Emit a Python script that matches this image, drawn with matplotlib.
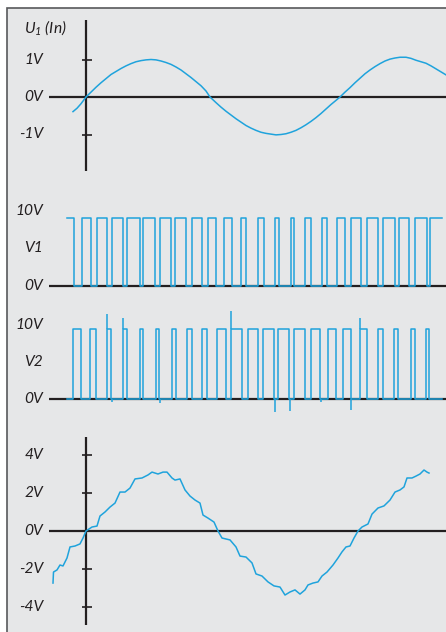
import matplotlib
matplotlib.use("Agg")
import matplotlib.pyplot as plt
from matplotlib.patches import Rectangle

# tamaño de la figura en px (dpi 100)
W, H = 446, 632

# --- datos (tiempo en unidades arbitrarias, 0 = eje vertical) ---
# U1 (entrada senoidal)
u1_t = [-13, -9, -5, 0, 5, 10, 15, 20, 25, 30, 35, 40, 45, 50, 55, 60, 65, 70, 75,
        80, 85, 90, 95, 100, 105, 110, 115, 120, 124, 130, 135, 140, 145, 150, 155,
        160, 165, 170, 175, 180, 185, 190, 195, 200, 205, 210, 215, 220, 225, 230,
        235, 240, 245, 250, 254, 259, 264, 269, 274, 279, 284, 289, 294, 299, 304,
        309, 314, 320, 325, 330, 335, 340, 345, 350, 355, 360]
u1_v = [-0.39, -0.30, -0.18, 0.0, 0.13, 0.26, 0.38, 0.49, 0.60, 0.68, 0.76, 0.83,
        0.89, 0.94, 0.97, 0.99, 1.0, 0.99, 0.96, 0.92, 0.87, 0.80, 0.72, 0.62, 0.52,
        0.41, 0.30, 0.16, 0.0, -0.15, -0.27, -0.38, -0.48, -0.58, -0.67, -0.76,
        -0.83, -0.89, -0.94, -0.97, -0.99, -1.01, -1.0, -0.98, -0.94, -0.89, -0.82,
        -0.74, -0.65, -0.55, -0.44, -0.32, -0.20, -0.09, 0.0, 0.13, 0.25, 0.38, 0.5,
        0.62, 0.72, 0.81, 0.89, 0.96, 1.01, 1.04, 1.06, 1.06, 1.03, 0.98, 0.94,
        0.90, 0.83, 0.75, 0.67, 0.59]

# V1: intervalos en bajo (bajada, subida)
v1_lows = [(-12, -4), (5, 11), (21, 26), (37, 41), (54, 57), (69, 74), (85, 89),
           (100, 106), (116, 122), (130, 138), (146, 155), (160, 172), (178, 189),
           (193, 205), (208, 219), (225, 236), (241, 251), (259, 265), (275, 281),
           (292, 297), (309, 313), (323, 329), (341, 344)]
v1_span = (-19, 356)

# V2: intervalos en alto (subida, bajada) y picos
v2_highs = [(-13, -5), (4, 10), (21, 25), (37, 41), (54, 57), (70, 73), (86, 90),
            (101, 106), (116, 121), (131, 140), (145, 156), (162, 172), (177, 188),
            (192, 203), (208, 219), (225, 234), (242, 250), (257, 265), (274, 281),
            (292, 297), (308, 312), (325, 329), (340, 343)]
v2_span = (-19, 356)
v2_spike_t = [21, 26, 37, 74, 145, 189, 204, 235, 265, 274]
v2_spike_v = [12.1, -0.4, 11.6, -0.6, 12.6, -1.9, -1.7, -0.4, -1.6, 11.6]

# salida filtrada
out_t = [-33, -32.5, -29, -26, -23, -19, -16, -11, -6, -3, 0, 6, 11, 14, 19, 24, 29,
         34, 39, 44, 49, 56, 62, 66, 72, 77, 81, 86, 89, 94, 99, 104, 109, 114, 117,
         122, 128, 132, 136, 144, 150, 154, 160, 166, 170, 176, 182, 188, 194, 199,
         204, 209, 214, 219, 222, 227, 232, 236, 241, 247, 252, 256, 260, 264, 268,
         272, 276, 282, 286, 292, 298, 304, 309, 314, 318, 321, 326, 330, 334, 338,
         341, 343]
out_v = [-2.74, -2.16, -2.05, -1.79, -1.84, -1.42, -0.84, -0.79, -0.68, -0.37, 0.0,
         0.21, 0.26, 0.79, 1.0, 1.26, 1.47, 2.05, 2.05, 2.26, 2.74, 2.79, 2.95, 3.1,
         3.0, 3.1, 3.1, 2.79, 2.68, 2.74, 2.16, 1.84, 1.63, 1.47, 0.84, 0.68, 0.47,
         0.0, -0.37, -0.47, -0.84, -1.32, -1.37, -1.68, -2.26, -2.37, -2.68, -2.89,
         -2.95, -3.37, -3.21, -3.1, -3.32, -3.1, -2.84, -2.74, -2.68, -2.37, -2.16,
         -1.79, -1.42, -1.1, -0.84, -0.79, -0.37, 0.0, 0.21, 0.37, 0.89, 1.21, 1.32,
         1.63, 2.05, 2.16, 2.32, 2.79, 2.79, 2.89, 3.0, 3.21, 3.1, 3.05]

# etiquetas
u1_ticks = [1, 0, -1]
u1_labels = ["1V", "0V", "-1V"]
out_ticks = [4, 2, 0, -2, -4]
out_labels = ["4V", "2V", "0V", "-2V", "-4V"]

TRAZO = "#1fa3dc"
NEGRO = "#231f20"
FONDO = "#e6e7e8"
FUENTE = ["Lato", "DejaVu Sans"]
TAM = 11.2

plt.rcParams["mathtext.fontset"] = "custom"
plt.rcParams["mathtext.it"] = "Lato:italic"
plt.rcParams["mathtext.rm"] = "Lato:italic"


def panel(fig, top, bottom, zero, ppu):
    # ejes transparentes, 1 unidad de tiempo = 1 px
    ax = fig.add_axes([0, 1 - bottom / H, 1, (bottom - top) / H])
    ax.set_xlim(-86, W - 86)
    ax.set_ylim((zero - bottom) / ppu, (zero - top) / ppu)
    ax.axis("off")
    ax.patch.set_alpha(0)
    return ax


def rotulo(ax, y, txt):
    ax.text(-43, y, txt, ha="right", va="center", fontsize=TAM,
            style="italic", family=FUENTE, color=NEGRO)


def cuadrada(span, edges, lo, hi, empieza_alto):
    a_val, b_val = (hi, lo) if empieza_alto else (lo, hi)
    ts, vs = [span[0]], [a_val]
    for a, b in edges:
        ts += [a, a, b, b]
        vs += [a_val, b_val, b_val, a_val]
    ts.append(span[1])
    vs.append(a_val)
    return ts, vs


fig = plt.figure(figsize=(W / 100, H / 100), dpi=100)
fig.patch.set_facecolor("white")
fig.patches.append(Rectangle((7 / W, -0.05), 1.1, 1.05 - 8 / H,
                             transform=fig.transFigure, fc=FONDO,
                             ec="#58595b", lw=1.2, zorder=-5))

# GRÁFICA 1: U1
ax1 = panel(fig, 10, 185, 97, 37.5)
ax1.hlines(0, -37, W, color=NEGRO, lw=1.6)
ax1.vlines(0, -1.97, 2.05, color=NEGRO, lw=1.6)
ax1.hlines([1, -1], -4, 6, color=NEGRO, lw=1.2)
ax1.plot(u1_t, u1_v, color=TRAZO, lw=1.1)
for v, s in zip(u1_ticks, u1_labels):
    rotulo(ax1, v, s)
ax1.text(-62, 1.84, r"$U_1$ (In)", ha="left", va="center", fontsize=TAM,
         style="italic", family=FUENTE, color=NEGRO)

# GRÁFICA 2: V1
ax2 = panel(fig, 190, 296, 286, 6.8)
ax2.hlines(0, -37, W, color=NEGRO, lw=1.6)
t, v = cuadrada(v1_span, v1_lows, 0, 10, True)
ax2.plot(t, v, color=TRAZO, lw=1.1)
rotulo(ax2, 11.0, "10V")
rotulo(ax2, 5.6, "V1")
rotulo(ax2, 0, "0V")

# GRÁFICA 3: V2
ax3 = panel(fig, 300, 425, 399, 7.0)
ax3.hlines(0, -37, W, color=NEGRO, lw=1.6)
t, v = cuadrada(v2_span, v2_highs, 0, 10, False)
ax3.plot(t, v, color=TRAZO, lw=1.1)
for st, sv in zip(v2_spike_t, v2_spike_v):
    base = 10 if sv > 5 else 0
    ax3.vlines(st, base, sv, color=TRAZO, lw=1.1)
rotulo(ax3, 10.6, "10V")
rotulo(ax3, 5.3, "V2")
rotulo(ax3, 0, "0V")

# GRÁFICA 4: salida
ax4 = panel(fig, 430, 632, 531, 19.0)
ax4.hlines(0, -37, W, color=NEGRO, lw=1.6)
ax4.vlines(0, -4.95, 4.95, color=NEGRO, lw=1.6)
ax4.hlines([4, 2, -2, -4], -4, 6, color=NEGRO, lw=1.2)
ax4.plot(out_t, out_v, color=TRAZO, lw=1.1)
for v, s in zip(out_ticks, out_labels):
    rotulo(ax4, v, s)

fig.savefig("out.png", dpi=100)
